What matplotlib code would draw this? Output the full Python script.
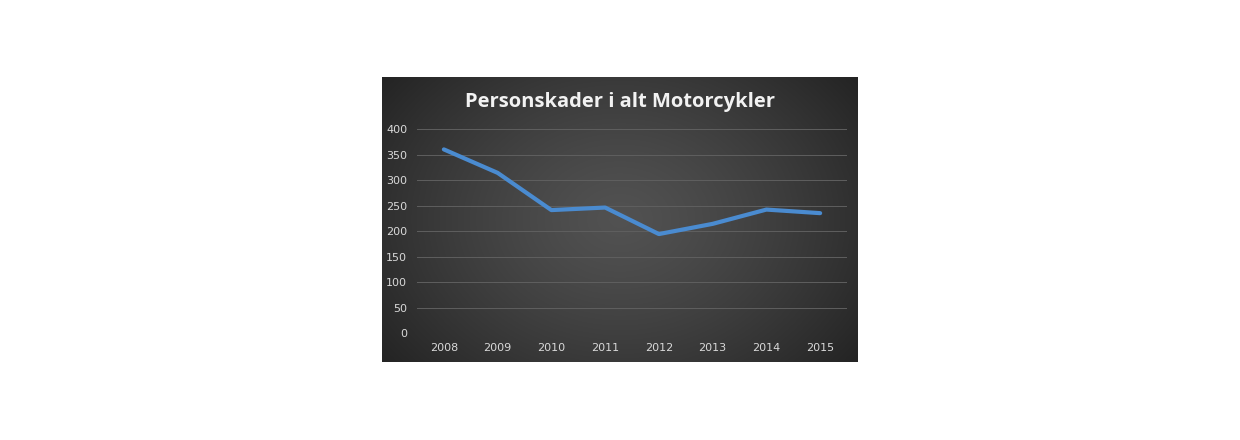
import numpy as np
import matplotlib.pyplot as plt

years = ["2008", "2009", "2010", "2011", "2012", "2013", "2014", "2015"]
skader = [360, 314, 241, 246, 194, 214, 242, 235]
yticks = [0, 50, 100, 150, 200, 250, 300, 350, 400]
title = "Personskader i alt Motorcykler"

W, H = 1240, 440
fig = plt.figure(figsize=(W / 100, H / 100), dpi=100)
fig.patch.set_facecolor("white")

# dark chart area with radial gradient (lighter middle)
bx, by, bw, bh = 382, 77, 476, 285
bg = fig.add_axes([bx / W, 1 - (by + bh) / H, bw / W, bh / H])
gx, gy = np.meshgrid(np.linspace(-1, 1, 400), np.linspace(-1, 1, 240))
r = np.clip(np.sqrt(gx**2 + 0.6 * gy**2) / np.sqrt(1.6), 0, 1)
shade = 0.32 - 0.18 * r**1.3
bg.imshow(np.dstack([shade] * 3), aspect="auto", extent=(0, 1, 0, 1))
bg.set_axis_off()

# plot area
x0, x1, ytop, ybot = 417, 847, 129, 333
ax = fig.add_axes([x0 / W, 1 - ybot / H, (x1 - x0) / W, (ybot - ytop) / H])
ax.patch.set_alpha(0)
x = np.arange(len(years))
ax.plot(x, skader, color="#4a8bd0", lw=3.0, solid_capstyle="round",
        solid_joinstyle="round", zorder=3)
ax.set_xlim(-0.5, len(years) - 0.5)
ax.set_ylim(0, 400)
ax.set_yticks(yticks)
ax.set_xticks(x, years)
ax.grid(axis="y", color="#5f5f5f", lw=0.7)
ax.set_axisbelow(True)
for s in ax.spines.values():
    s.set_visible(False)
ax.tick_params(length=0, colors="#d9d9d9", labelsize=8)
ax.tick_params(axis="y", pad=7)
ax.tick_params(axis="x", pad=7.5)

fig.text(620 / W, 1 - 102 / H, title, ha="center", va="center",
         color="#f2f2f2", fontsize=14.5, fontweight="bold", family="Open Sans")

fig.savefig("out.png", dpi=100)
